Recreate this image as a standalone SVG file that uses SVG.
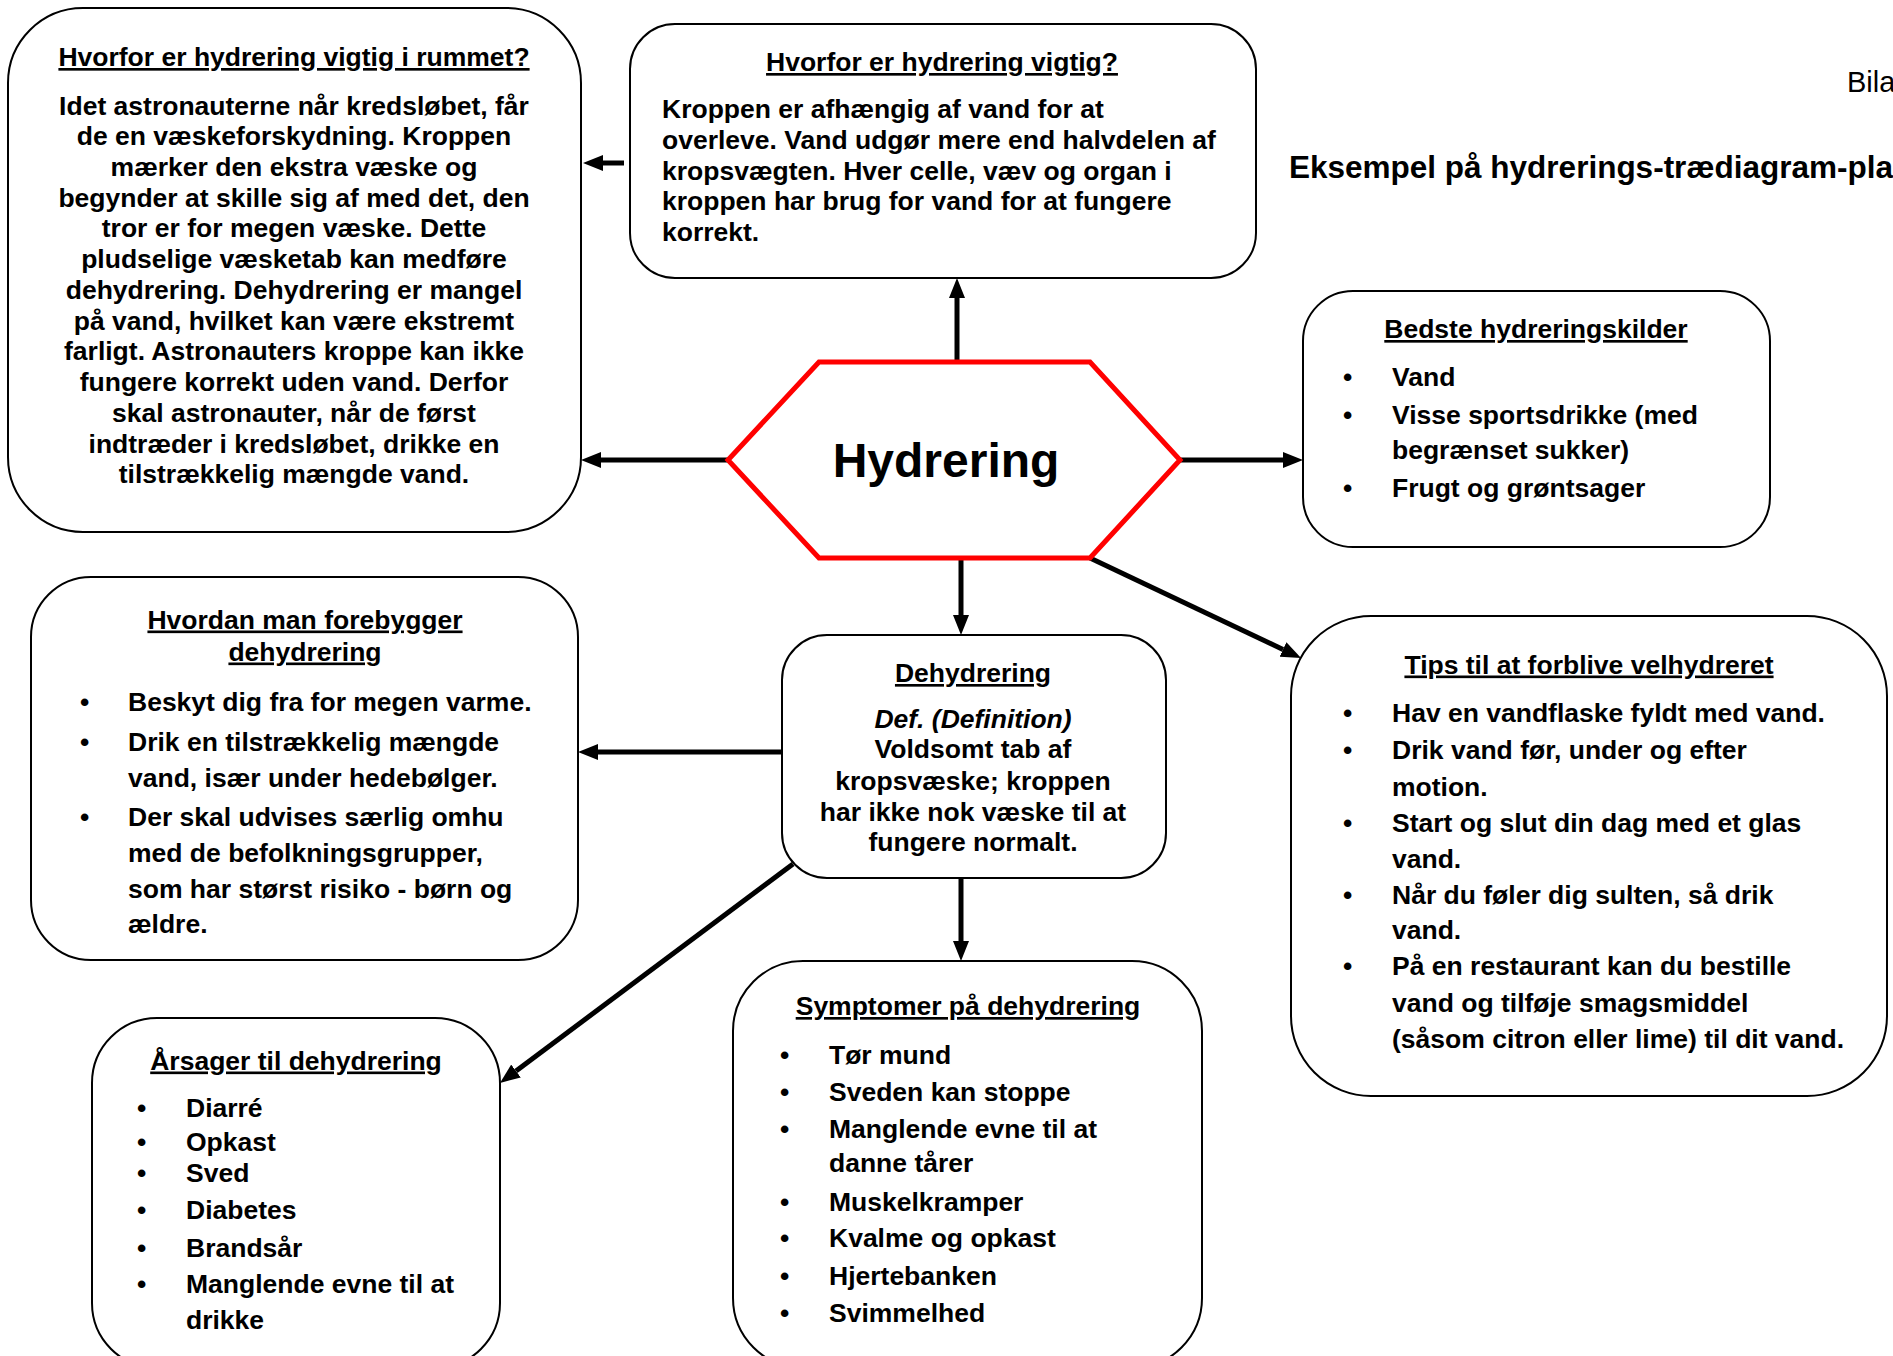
<svg xmlns="http://www.w3.org/2000/svg" width="1893" height="1356" viewBox="0 0 1893 1356">
<style>
text{font-family:"Liberation Sans",Arial,sans-serif;font-weight:bold;font-size:26.5px;fill:#000}
.c{text-anchor:middle}
.h{text-decoration:underline}
.box{fill:#fff;stroke:#000;stroke-width:2}
.arr{stroke:#000;stroke-width:5;fill:none;marker-end:url(#ah)}
.reg{font-weight:normal}
</style>
<defs>
<marker id="ah" viewBox="0 0 20 16" refX="0" refY="8" markerWidth="20" markerHeight="16" markerUnits="userSpaceOnUse" orient="auto">
<path d="M0,0 L20,8 L0,16 z" fill="#000"/>
</marker>
</defs>
<rect width="1893" height="1356" fill="#fff"/>

<g id="header">
<text class="reg" x="1847" y="92" style="font-size:29px">Bila</text>
<text x="1289" y="178" style="font-size:31.5px">Eksempel på hydrerings-trædiagram-pla</text>
</g>

<g id="connectors">
<line class="arr" x1="624" y1="163" x2="603" y2="163"/>
<line class="arr" x1="728" y1="460" x2="601" y2="460"/>
<line class="arr" x1="957" y1="362" x2="957" y2="298"/>
<line class="arr" x1="1180" y1="460" x2="1283" y2="460"/>
<line class="arr" x1="961" y1="558" x2="961" y2="615"/>
<line class="arr" x1="1090" y1="558" x2="1283" y2="649.4"/>
<line class="arr" x1="782" y1="752" x2="598" y2="752"/>
<line class="arr" x1="793" y1="864" x2="516" y2="1071"/>
<line class="arr" x1="961" y1="878" x2="961" y2="941"/>
</g>

<g id="node-rummet">
<rect class="box" x="8" y="8" width="573" height="524" rx="75"/>
<text class="c h" x="294" y="66">Hvorfor er hydrering vigtig i rummet?</text>
<text class="c" x="294" y="114.5">Idet astronauterne når kredsløbet, får</text>
<text class="c" x="294" y="145">de en væskeforskydning. Kroppen</text>
<text class="c" x="294" y="175.5">mærker den ekstra væske og</text>
<text class="c" x="294" y="206.5">begynder at skille sig af med det, den</text>
<text class="c" x="294" y="237">tror er for megen væske. Dette</text>
<text class="c" x="294" y="268">pludselige væsketab kan medføre</text>
<text class="c" x="294" y="298.5">dehydrering. Dehydrering er mangel</text>
<text class="c" x="294" y="329.5">på vand, hvilket kan være ekstremt</text>
<text class="c" x="294" y="360">farligt. Astronauters kroppe kan ikke</text>
<text class="c" x="294" y="391">fungere korrekt uden vand. Derfor</text>
<text class="c" x="294" y="422">skal astronauter, når de først</text>
<text class="c" x="294" y="452.5">indtræder i kredsløbet, drikke en</text>
<text class="c" x="294" y="483">tilstrækkelig mængde vand.</text>
</g>

<g id="node-vigtig">
<rect class="box" x="630" y="24" width="626" height="254" rx="45"/>
<text class="c h" x="942" y="71">Hvorfor er hydrering vigtig?</text>
<text x="662" y="118">Kroppen er afhængig af vand for at</text>
<text x="662" y="149">overleve. Vand udgør mere end halvdelen af</text>
<text x="662" y="179.5">kropsvægten. Hver celle, væv og organ i</text>
<text x="662" y="210">kroppen har brug for vand for at fungere</text>
<text x="662" y="241">korrekt.</text>
</g>

<g id="node-hydrering">
<polygon points="819,362 1090,362 1180,460 1090,558 819,558 728,460" fill="#fff" stroke="#ff0000" stroke-width="5"/>
<text class="c" x="946" y="477" style="font-size:48px">Hydrering</text>
</g>

<g id="node-kilder">
<rect class="box" x="1303" y="291" width="467" height="256" rx="50"/>
<text class="c h" x="1536" y="338">Bedste hydreringskilder</text>
<text x="1343" y="386">•</text><text x="1392" y="386">Vand</text>
<text x="1343" y="423.5">•</text><text x="1392" y="423.5">Visse sportsdrikke (med</text>
<text x="1392" y="458.5">begrænset sukker)</text>
<text x="1343" y="497">•</text><text x="1392" y="497">Frugt og grøntsager</text>
</g>

<g id="node-forebygger">
<rect class="box" x="31" y="577" width="547" height="383" rx="60"/>
<text class="c h" x="305" y="628.5">Hvordan man forebygger</text>
<text class="c h" x="305" y="660.5">dehydrering</text>
<text x="80" y="711">•</text><text x="128" y="711">Beskyt dig fra for megen varme.</text>
<text x="80" y="751">•</text><text x="128" y="751">Drik en tilstrækkelig mængde</text>
<text x="128" y="787">vand, især under hedebølger.</text>
<text x="80" y="825.5">•</text><text x="128" y="825.5">Der skal udvises særlig omhu</text>
<text x="128" y="862">med de befolkningsgrupper,</text>
<text x="128" y="898">som har størst risiko - børn og</text>
<text x="128" y="933">ældre.</text>
</g>

<g id="node-dehydrering">
<rect class="box" x="782" y="635" width="384" height="243" rx="45"/>
<text class="c h" x="973" y="682">Dehydrering</text>
<text class="c" x="973" y="728" style="font-style:italic">Def. (Definition)</text>
<text class="c" x="973" y="758">Voldsomt tab af</text>
<text class="c" x="973" y="789.5">kropsvæske; kroppen</text>
<text class="c" x="973" y="821">har ikke nok væske til at</text>
<text class="c" x="973" y="851">fungere normalt.</text>
</g>

<g id="node-tips">
<rect class="box" x="1291" y="616" width="596" height="480" rx="80"/>
<text class="c h" x="1589" y="673.5">Tips til at forblive velhydreret</text>
<text x="1343" y="722">•</text><text x="1392" y="722">Hav en vandflaske fyldt med vand.</text>
<text x="1343" y="759">•</text><text x="1392" y="759">Drik vand før, under og efter</text>
<text x="1392" y="795.5">motion.</text>
<text x="1343" y="831.5">•</text><text x="1392" y="831.5">Start og slut din dag med et glas</text>
<text x="1392" y="868">vand.</text>
<text x="1343" y="904">•</text><text x="1392" y="904">Når du føler dig sulten, så drik</text>
<text x="1392" y="939">vand.</text>
<text x="1343" y="975">•</text><text x="1392" y="975">På en restaurant kan du bestille</text>
<text x="1392" y="1011.5">vand og tilføje smagsmiddel</text>
<text x="1392" y="1048">(såsom citron eller lime) til dit vand.</text>
</g>

<g id="node-aarsager">
<rect class="box" x="92" y="1018" width="408" height="350" rx="65"/>
<text class="c h" x="296" y="1069.5">Årsager til dehydrering</text>
<text x="137" y="1116.5">•</text><text x="186" y="1116.5">Diarré</text>
<text x="137" y="1150.5">•</text><text x="186" y="1150.5">Opkast</text>
<text x="137" y="1181.5">•</text><text x="186" y="1181.5">Sved</text>
<text x="137" y="1219">•</text><text x="186" y="1219">Diabetes</text>
<text x="137" y="1256.5">•</text><text x="186" y="1256.5">Brandsår</text>
<text x="137" y="1293">•</text><text x="186" y="1293">Manglende evne til at</text>
<text x="186" y="1329">drikke</text>
</g>

<g id="node-symptomer">
<rect class="box" x="733" y="961" width="469" height="407" rx="70"/>
<text class="c h" x="968" y="1015">Symptomer på dehydrering</text>
<text x="780" y="1063.5">•</text><text x="829" y="1063.5">Tør mund</text>
<text x="780" y="1101">•</text><text x="829" y="1101">Sveden kan stoppe</text>
<text x="780" y="1138">•</text><text x="829" y="1138">Manglende evne til at</text>
<text x="829" y="1172">danne tårer</text>
<text x="780" y="1211">•</text><text x="829" y="1211">Muskelkramper</text>
<text x="780" y="1247">•</text><text x="829" y="1247">Kvalme og opkast</text>
<text x="780" y="1284.5">•</text><text x="829" y="1284.5">Hjertebanken</text>
<text x="780" y="1322">•</text><text x="829" y="1322">Svimmelhed</text>
</g>
</svg>
